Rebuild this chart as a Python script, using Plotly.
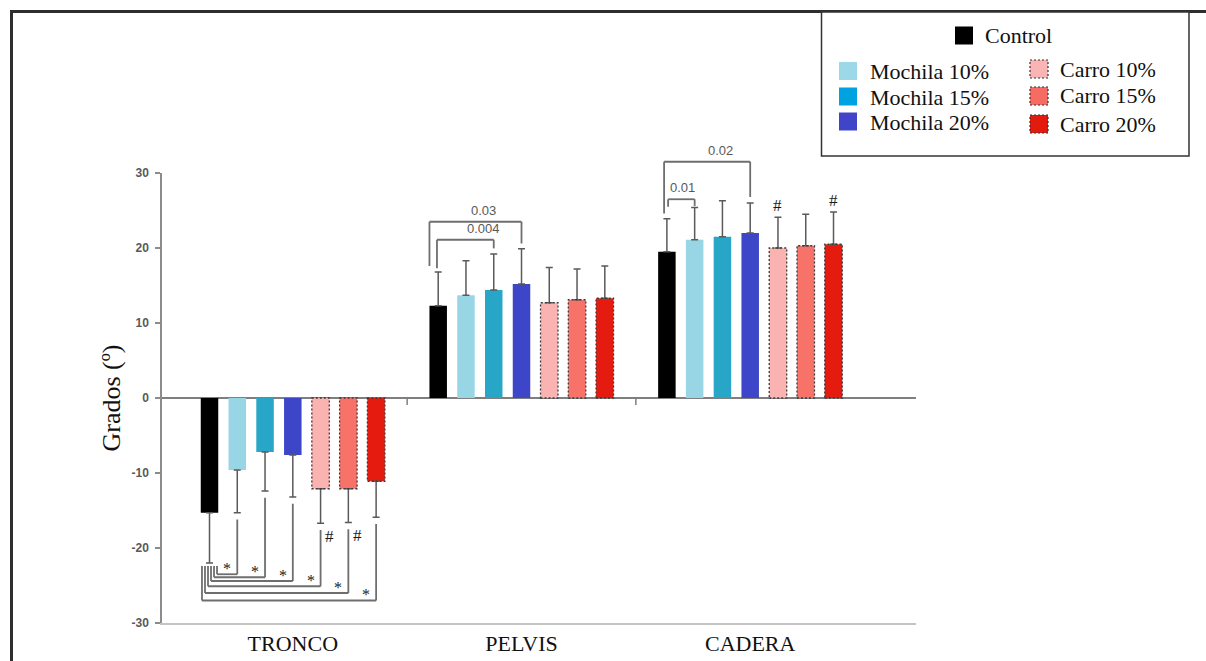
import plotly.graph_objects as go

# ---------------- data ----------------
categories = ["TRONCO", "PELVIS", "CADERA"]
series_names = ["Control", "Mochila 10%", "Mochila 15%", "Mochila 20%",
                "Carro 10%", "Carro 15%", "Carro 20%"]

control_mean = [-15.3, 12.3, 19.5]
mochila10_mean = [-9.6, 13.7, 21.1]
mochila15_mean = [-7.2, 14.4, 21.5]
mochila20_mean = [-7.6, 15.2, 22.0]
carro10_mean = [-12.1, 12.7, 20.0]
carro15_mean = [-12.1, 13.1, 20.3]
carro20_mean = [-11.1, 13.3, 20.5]

control_sd = [6.7, 4.5, 4.4]
mochila10_sd = [5.7, 4.6, 4.3]
mochila15_sd = [5.2, 4.8, 4.8]
mochila20_sd = [5.6, 4.7, 4.0]
carro10_sd = [4.6, 4.7, 4.1]
carro15_sd = [4.5, 4.1, 4.2]
carro20_sd = [4.8, 4.3, 4.3]

y_tick_values = [-30, -20, -10, 0, 10, 20, 30]
y_tick_labels = ["-30", "-20", "-10", "0", "10", "20", "30"]
y_title = "Grados (º)"

# significance marks
tronco_star_targets = ["Mochila 10%", "Mochila 15%", "Mochila 20%",
                       "Carro 10%", "Carro 15%", "Carro 20%"]
pelvis_p_targets = ["Mochila 20%", "Mochila 15%"]
pelvis_p_labels = ["0.03", "0.004"]
cadera_p_targets = ["Mochila 20%", "Mochila 10%"]
cadera_p_labels = ["0.02", "0.01"]
tronco_hash_targets = ["Carro 10%", "Carro 15%"]
cadera_hash_targets = ["Carro 10%", "Carro 20%"]

means = [control_mean, mochila10_mean, mochila15_mean, mochila20_mean,
         carro10_mean, carro15_mean, carro20_mean]
sds = [control_sd, mochila10_sd, mochila15_sd, mochila20_sd,
       carro10_sd, carro15_sd, carro20_sd]

# ---------------- style ----------------
bar_colors = ["#000000", "#98d6e6", "#27a6c8", "#3d45c8",
              "#fab3b1", "#f7736a", "#e41b0e"]
legend_colors = ["#000000", "#9dd8e8", "#00a2e0", "#3f44c8",
                 "#fbb4b4", "#f76c62", "#e31a0e"]
dashed = [False, False, False, False, True, True, True]

W, H = 1206, 661
PLOT_L, PLOT_R, PLOT_T, PLOT_B = 162, 916, 173, 623  # pixels
ML, MT = PLOT_L, PLOT_T
PW, PH = PLOT_R - PLOT_L, PLOT_B - PLOT_T
MR, MB = W - ML - PW, H - MT - PH

Y_MIN, Y_MAX = -30, 30
X_MIN, X_MAX = -0.572, 2.725
BARGAP, BARGROUPGAP = 0.15, 0.37
N = len(series_names)
SLOT = (1 - BARGAP) / N
BW = SLOT * (1 - BARGROUPGAP)
PX_PER_X = PW / (X_MAX - X_MIN)
PX_PER_Y = PH / (Y_MAX - Y_MIN)

SERIF = "Liberation Serif"
SANS = "Liberation Sans"
BRACKET_COLOR = "#6e6e6e"
BRACKET_W = 1.8


def bar_x(i, j):
    return i - (1 - BARGAP) / 2 + SLOT * (j + 0.5)


def yp(v):
    return (v - Y_MIN) / (Y_MAX - Y_MIN)


def dx(px):
    return px / PX_PER_X


def dy(px):
    return px / PX_PER_Y


def paper_x(px):
    return (px - PLOT_L) / PW


def paper_y(py):
    return (PLOT_B - py) / PH


def cap(j, i):
    v = means[j][i]
    s = sds[j][i]
    return v + s if v >= 0 else v - s


shapes = []
annotations = []


def seg(x0, y0, x1, y1):
    shapes.append(dict(type="line", xref="x", yref="paper",
                       x0=x0, x1=x1, y0=yp(y0), y1=yp(y1),
                       line=dict(color=BRACKET_COLOR, width=BRACKET_W)))


fig = go.Figure()
for j, name in enumerate(series_names):
    m = means[j]
    s = sds[j]
    fig.add_trace(go.Bar(
        x=categories, y=m, name=name, showlegend=False,
        marker=dict(color=bar_colors[j], line=dict(width=0)),
        error_y=dict(type="data", symmetric=False,
                     array=[sd if v >= 0 else 0 for v, sd in zip(m, s)],
                     arrayminus=[sd if v < 0 else 0 for v, sd in zip(m, s)],
                     color="#5a5a5a", thickness=1.5, width=3.5),
    ))
    if dashed[j]:
        for i, v in enumerate(m):
            shapes.append(dict(type="rect", xref="x", yref="y",
                               x0=bar_x(i, j) - BW / 2, x1=bar_x(i, j) + BW / 2,
                               y0=0, y1=v,
                               line=dict(color="#3a3a3a", width=1.3, dash="2px,2px"),
                               fillcolor="rgba(0,0,0,0)"))

# category separators on the zero line
for b in [0.5, 1.5]:
    shapes.append(dict(type="line", xref="x", yref="y", x0=b, x1=b,
                       y0=0, y1=-dy(7), line=dict(color="#7f7f7f", width=1.5)))

# ---- TRONCO brackets (below) ----
TRONCO_LEVELS = [-23.5, -23.9, -24.4, -25.1, -26.0, -27.0]
ctrl_cap0 = cap(0, 0)
for k, target in enumerate(tronco_star_targets):
    j = series_names.index(target)
    lx = bar_x(0, 0) + BW * (0.43 - 0.172 * k)
    rx = bar_x(0, j)
    lev = TRONCO_LEVELS[k]
    top = cap(j, 0) - 0.9
    seg(lx, ctrl_cap0 - 0.4, lx, lev)
    seg(lx, lev, rx, lev)
    seg(rx, lev, rx, top)
    annotations.append(dict(x=rx - dx(10), y=yp(lev), xref="x", yref="paper",
                            text="*", showarrow=False, yanchor="middle",
                            yshift=6, font=dict(family=SERIF, size=16, color="#1a1a1a")))
    if target in tronco_hash_targets:
        annotations.append(dict(x=rx + dx(9), y=yp(top), xref="x", yref="paper",
                                text="#", showarrow=False, yanchor="middle",
                                yshift=-6, font=dict(family=SERIF, size=17, color="#1a1a1a")))

# ---- PELVIS / CADERA brackets (above) ----
bracket_specs = [
    # (category index, targets, labels, levels, left offset (bar widths), left gap, right gap, label fraction)
    (1, pelvis_p_targets, pelvis_p_labels, [23.5, 21.1], [-0.5, -0.07], [0.8, 0.5], [0.7, 0.75], [0.59, 0.82]),
    (2, cadera_p_targets, cadera_p_labels, [31.5, 26.5], [-0.16, 0.07], [0.7, 1.6], [0.8, 0.2], [0.66, 0.53]),
]
for i, targets, labels, levels, loffs, lgaps, rgaps, fracs in bracket_specs:
    for t, target in enumerate(targets):
        j = series_names.index(target)
        lx = bar_x(i, 0) + BW * loffs[t]
        rx = bar_x(i, j)
        lev = levels[t]
        seg(lx, cap(0, i) + lgaps[t], lx, lev)
        seg(lx, lev, rx, lev)
        seg(rx, lev, rx, cap(j, i) + rgaps[t])
        annotations.append(dict(x=lx + fracs[t] * (rx - lx), y=yp(lev), xref="x", yref="paper",
                                text=labels[t], showarrow=False, yanchor="bottom", yshift=2,
                                font=dict(family=SANS, size=13, color="#595959")))

for target in cadera_hash_targets:
    j = series_names.index(target)
    annotations.append(dict(x=bar_x(2, j), y=yp(cap(j, 2)), xref="x", yref="paper",
                            text="#", showarrow=False, yanchor="middle", yshift=12,
                            font=dict(family=SERIF, size=17, color="#1a1a1a")))

# ---- outer frame ----
FRAME = dict(color="#2e2e2e", width=3)
shapes.append(dict(type="line", xref="paper", yref="paper",
                   x0=paper_x(11.5), x1=paper_x(11.5), y0=paper_y(10), y1=paper_y(700), line=FRAME))
shapes.append(dict(type="line", xref="paper", yref="paper",
                   x0=paper_x(10), x1=paper_x(1260), y0=paper_y(11.5), y1=paper_y(11.5), line=FRAME))

# ---- legend (manual, two columns under a centred "Control") ----
shapes.append(dict(type="rect", xref="paper", yref="paper",
                   x0=paper_x(821.5), x1=paper_x(1189), y0=paper_y(12), y1=paper_y(156),
                   line=dict(color="#333333", width=1.5), fillcolor="white"))
legend_pos = {  # swatch centre x, swatch centre y, text left x, text centre y (pixels)
    "Control": (964, 35.5, 983, 35),
    "Mochila 10%": (848, 71, 868, 71),
    "Mochila 15%": (848, 96.5, 868, 97.5),
    "Mochila 20%": (848, 121.5, 868, 122.5),
    "Carro 10%": (1039, 69, 1058, 69.5),
    "Carro 15%": (1039, 96, 1058, 95.5),
    "Carro 20%": (1039, 124, 1058, 124.5),
}
SW = 9
for j, name in enumerate(series_names):
    cx, cy, tx, ty = legend_pos[name]
    shapes.append(dict(type="rect", xref="paper", yref="paper",
                       x0=paper_x(cx - SW), x1=paper_x(cx + SW),
                       y0=paper_y(cy + SW), y1=paper_y(cy - SW),
                       fillcolor=legend_colors[j],
                       line=dict(color="#333333" if dashed[j] else legend_colors[j],
                                 width=1.2 if dashed[j] else 0,
                                 dash="2px,2px" if dashed[j] else "solid")))
    annotations.append(dict(x=paper_x(tx), y=paper_y(ty), xref="paper", yref="paper",
                            text=name, showarrow=False, xanchor="left", yanchor="middle",
                            font=dict(family=SERIF, size=22, color="#111111")))

fig.update_layout(
    width=W, height=H,
    margin=dict(l=ML, r=MR, t=MT, b=MB, pad=0, autoexpand=False),
    paper_bgcolor="white", plot_bgcolor="white",
    barmode="group", bargap=BARGAP, bargroupgap=BARGROUPGAP,
    showlegend=False,
    shapes=shapes, annotations=annotations,
    xaxis=dict(type="category", range=[X_MIN, X_MAX], showgrid=False, zeroline=False,
               automargin=False,
               showline=True, linecolor="#c4c4c4", linewidth=2, ticks="",
               tickfont=dict(family=SERIF, size=22, color="#111111"),
               ticklabelstandoff=0),
    yaxis=dict(range=[Y_MIN, Y_MAX], tickvals=y_tick_values, ticktext=y_tick_labels,
               showgrid=False, automargin=False,
               zeroline=True, zerolinecolor="#7f7f7f", zerolinewidth=1.5,
               showline=True, linecolor="#8c8c8c", linewidth=1.5,
               ticks="outside", ticklen=5, tickcolor="#8c8c8c", tickwidth=1.5,
               tickfont=dict(family=SANS, size=12, color="#595959", weight="bold"),
               ticklabelstandoff=4,
               title=dict(text=y_title, standoff=3,
                          font=dict(family=SERIF, size=26, color="#111111"))),
)

fig.write_html("out.html", config={"displayModeBar": False},
               post_script="document.body.style.margin='0';document.body.style.overflow='hidden';")
